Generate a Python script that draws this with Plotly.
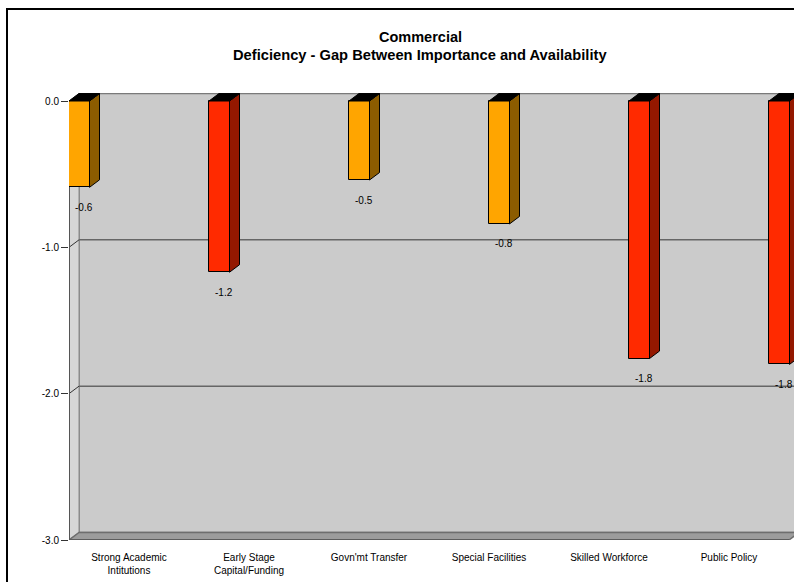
import plotly.graph_objects as go

# ---- data -------------------------------------------------------------
categories = [
    "Strong Academic<br>Intitutions",
    "Early Stage<br>Capital/Funding",
    "Govn'mt Transfer",
    "Special Facilities",
    "Skilled Workforce",
    "Public Policy",
]
gap_values = [-0.59, -1.17, -0.54, -0.84, -1.76, -1.80]
severity = ["moderate", "high", "moderate", "moderate", "high", "high"]
y_tick_values = [0.0, -1.0, -2.0, -3.0]
y_tick_labels = ["0.0", "-1.0", "-2.0", "-3.0"]

# ---- styling ------------------------------------------------------------
FONT = "Arial, Liberation Sans, sans-serif"
FRONT = {"moderate": "#FFA500", "high": "#FF2A00"}
SIDE = {"moderate": "#8C5C00", "high": "#941800"}

W, H = 794, 582
M_L, M_R, M_T, M_B = 69, 0, 93, 42
PX_PER_CAT = 120.0           # horizontal pixels per category slot
PX_PER_UNIT = 146.33         # vertical pixels per unit of gap
DEPTH_X_PX, DEPTH_Y_PX = 10.0, 7.5
BAR_PITCH = 140.0 / PX_PER_CAT
BAR_W = 20.5 / PX_PER_CAT

plot_w = W - M_L - M_R
plot_h = H - M_T - M_B
x_max = plot_w / PX_PER_CAT
y_min = -3.0
y_max = y_min + plot_h / PX_PER_UNIT
dx = DEPTH_X_PX / PX_PER_CAT
dy = DEPTH_Y_PX / PX_PER_UNIT
n = len(categories)
x_far = n + dx + 1


def px_to_paper_x(px):
    return (px - M_L) / plot_w


def px_to_paper_y(py):
    return (H - M_B - py) / plot_h


shapes = []
# back wall
shapes.append(dict(type="rect", xref="x", yref="y", layer="below",
                   x0=dx, x1=x_far, y0=y_min + dy, y1=dy,
                   fillcolor="#CBCBCB", line=dict(color="#7A7A7A", width=1.5)))
# left wall
shapes.append(dict(type="path", xref="x", yref="y", layer="below",
                   path=f"M 0,0 L {dx},{dy} L {dx},{y_min + dy} L 0,{y_min} Z",
                   fillcolor="#D6D6D6", line=dict(color="#8A8A8A", width=1)))
# floor
shapes.append(dict(type="path", xref="x", yref="y", layer="below",
                   path=f"M 0,{y_min} L {dx},{y_min + dy} L {n + dx},{y_min + dy} L {n},{y_min} Z",
                   fillcolor="#9C9C9C", line=dict(color="#6E6E6E", width=1.5)))
# gridlines on the back wall plus the short connectors to the front axis
for v in y_tick_values[1:-1]:
    shapes.append(dict(type="line", xref="x", yref="y", layer="below",
                       x0=dx, x1=x_far, y0=v + dy, y1=v + dy,
                       line=dict(color="#666666", width=1.5)))
    shapes.append(dict(type="line", xref="x", yref="y", layer="below",
                       x0=0, x1=dx, y0=v, y1=v + dy,
                       line=dict(color="#333333", width=1)))
# front value axis and floor edge
shapes.append(dict(type="line", xref="x", yref="y", layer="below",
                   x0=0, x1=0, y0=0, y1=y_min, line=dict(color="#555555", width=2)))
shapes.append(dict(type="line", xref="x", yref="y", layer="below",
                   x0=0, x1=n, y0=y_min, y1=y_min, line=dict(color="#555555", width=1.5)))

bar_left = [i * BAR_PITCH for i in range(n)]
bar_center = [xl + BAR_W / 2 for xl in bar_left]

# side and top faces of every bar
for xl, v, s in zip(bar_left, gap_values, severity):
    xr = xl + BAR_W
    shapes.append(dict(type="path", xref="x", yref="y", layer="above",
                       path=f"M {xr},0 L {xr + dx},{dy} L {xr + dx},{v + dy} L {xr},{v} Z",
                       fillcolor=SIDE[s], line=dict(color="#000000", width=1)))
    shapes.append(dict(type="path", xref="x", yref="y", layer="above",
                       path=f"M {xl},0 L {xl + dx},{dy} L {xr + dx},{dy} L {xr},0 Z",
                       fillcolor="#000000", line=dict(color="#000000", width=1)))

# outer frame
shapes.append(dict(type="rect", xref="paper", yref="paper",
                   x0=px_to_paper_x(7), x1=px_to_paper_x(830),
                   y0=px_to_paper_y(600), y1=px_to_paper_y(9),
                   line=dict(color="#000000", width=2), fillcolor="rgba(0,0,0,0)"))

fig = go.Figure()
fig.add_trace(go.Bar(
    x=bar_center, y=gap_values, width=BAR_W,
    marker=dict(color=[FRONT[s] for s in severity], line=dict(color="#000000", width=1)),
    hoverinfo="skip", showlegend=False,
))

annotations = []
for xl, v in zip(bar_left, gap_values):
    annotations.append(dict(
        x=xl + (BAR_W + dx) / 2, y=v, xref="x", yref="y",
        xanchor="center", yanchor="middle",
        text=f"{v:.1f}", showarrow=False, yshift=-20,
        font=dict(family=FONT, size=10, color="#000000"),
    ))

annotations.append(dict(
    x=px_to_paper_x(420), y=px_to_paper_y(37), xref="paper", yref="paper",
    xanchor="center", yanchor="middle",
    text="<b>Commercial</b>", showarrow=False,
    font=dict(family=FONT, size=14.5, color="#000000"),
))
annotations.append(dict(
    x=px_to_paper_x(420), y=px_to_paper_y(55), xref="paper", yref="paper",
    xanchor="center", yanchor="middle",
    text="<b>Deficiency - Gap Between Importance and Availability</b>", showarrow=False,
    font=dict(family=FONT, size=14.7, color="#000000"),
))

fig.update_layout(
    width=W, height=H,
    margin=dict(l=M_L, r=M_R, t=M_T, b=M_B, pad=0),
    paper_bgcolor="#FFFFFF", plot_bgcolor="#FFFFFF",
    font=dict(family=FONT, size=10, color="#000000"),
    shapes=shapes, annotations=annotations,
    bargap=0,
    xaxis=dict(
        range=[0, x_max], tickvals=[i + 0.5 for i in range(n)], ticktext=categories,
        showgrid=False, zeroline=False, showline=False,
        ticks="outside", ticklen=8, tickcolor="rgba(0,0,0,0)",
        tickfont=dict(family=FONT, size=10, color="#000000"), fixedrange=True,
    ),
    yaxis=dict(
        range=[y_min, y_max], tickvals=y_tick_values, ticktext=y_tick_labels,
        showgrid=False, zeroline=False, showline=False,
        ticks="outside", ticklen=7, tickcolor="#333333", tickwidth=1,
        tickfont=dict(family=FONT, size=10, color="#000000"), fixedrange=True,
    ),
)

fig.write_html("out.html")
